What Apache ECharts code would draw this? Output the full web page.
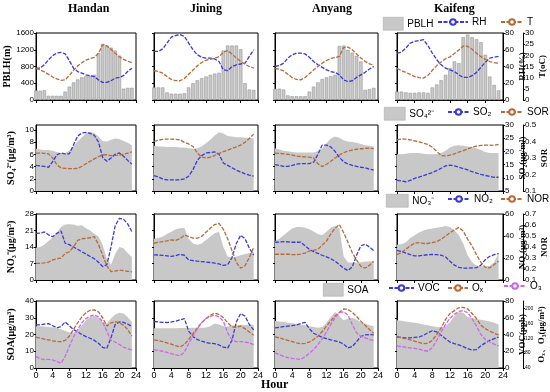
<!DOCTYPE html>
<html><head><meta charset="utf-8">
<script src="https://cdn.jsdelivr.net/npm/echarts@6/dist/echarts.min.js"></script>
<style>html,body{margin:0;padding:0;background:#fff}#c{width:550px;height:392px}</style>
</head><body><div id="c"></div>
<script>
const hours = [0,1,2,3,4,5,6,7,8,9,10,11,12,13,14,15,16,17,18,19,20,21,22,23];
const cities = ['Handan','Jining','Anyang','Kaifeng'];

// Row 1: PBLH (m), RH (%), T (oC)
const pblhHandan = [230,220,230,100,100,100,100,200,320,420,490,540,570,580,600,1120,1340,1300,1250,1180,1060,270,290,290];
const pblhJining = [300,300,300,180,150,150,150,160,300,400,470,520,560,600,630,650,1180,1300,1300,1300,1210,400,250,240];
const pblhAnyang = [270,270,250,110,90,90,90,90,200,320,420,500,540,570,600,1290,1300,1200,1130,1050,920,240,260,290];
const pblhKaifeng = [200,200,180,170,170,180,180,170,300,370,470,600,760,920,880,1500,1560,1500,1450,1380,1080,560,360,230];
const rhHandan = [38,38,42,48,53,56,57,55,47,38,34,32,30,29,28,24,21,21,23,26,27,29,34,38];
const rhJining = [58,58,61,68,75,77,78,76,68,60,54,51,50,50,49,46,36,35,40,42,43,44,52,60];
const rhAnyang = [40,41,44,50,54,56,56,55,51,46,42,39,36,34,33,30,24,22,23,27,30,33,37,40];
const rhKaifeng = [56,57,62,68,70,71,72,65,56,48,42,38,36,34,30,27,27,29,33,39,45,50,51,52];
const tHandan = [14.1,13.5,12.6,11.5,10.3,9.5,8.8,9.0,11.0,13.3,15.2,16.7,17.9,18.6,19.1,20.9,24.7,24.2,22.7,20.9,19.4,18.2,17.4,16.7];
const tJining = [13.1,12.8,12.0,10.5,9.2,8.7,8.6,9.6,11.5,13.4,15.3,16.8,17.8,18.3,18.6,19.4,21.4,22.1,20.6,18.8,17.3,16.0,15.0,14.3];
const tAnyang = [14.1,13.8,13.0,11.5,10.0,9.2,9.0,10.0,11.8,13.5,15.0,16.5,17.7,18.6,19.0,19.5,23.5,23.7,22.5,20.6,18.8,17.3,16.2,15.6];
const tKaifeng = [14.1,13.2,12.3,11.5,10.5,10.0,9.8,11.0,13.3,15.4,17.0,18.5,19.3,20.8,22.4,24.2,24.0,22.7,20.9,19.4,18.2,17.2,16.7,16.4];

// Row 2: SO4 (ug/m3), SO2 (ug/m3), SOR
const so4Handan = [6.9,6.8,6.7,6.7,6.6,6.4,6.2,6.2,6.6,7.3,8.1,8.8,9.4,9.7,9.5,8.9,8.2,8.1,8.4,8.6,8.5,8.2,7.9,7.5];
const so4Jining = [7.4,7.3,7.3,7.2,7.2,7.2,7.1,7.1,7.0,6.9,7.0,7.3,7.8,8.4,9.1,9.6,9.4,9.0,8.9,8.8,8.8,8.7,8.7,8.6];
const so4Anyang = [7.0,6.8,6.6,6.5,6.4,6.3,6.3,6.3,6.3,6.3,6.5,7.0,7.8,8.6,8.9,8.7,8.3,8.1,8.0,7.9,7.7,7.5,7.4,7.3];
const so4Kaifeng = [6.0,6.0,6.1,6.2,6.2,6.2,6.1,6.0,6.0,6.0,6.2,6.6,7.1,7.4,7.5,7.4,7.3,7.2,7.0,6.7,6.4,6.2,6.2,6.2];
const so2Handan = [14.7,14.5,14.3,14.0,16.1,18.7,19.4,19.1,19.1,22.4,25.8,27.0,27.2,26.8,26.1,23.5,17.7,16.3,17.5,18.9,19.4,18.2,16.6,15.2];
const so2Jining = [10.8,10.3,9.6,9.2,9.2,9.2,9.2,9.6,10.6,13.1,16.6,18.4,19.4,19.6,19.8,18.9,15.6,14.7,13.8,12.9,12.2,11.5,11.0,10.6];
const so2Anyang = [15.0,14.7,14.3,14.3,14.7,15.2,15.4,15.4,15.4,15.9,18.9,22.4,22.4,21.7,20.0,17.7,16.1,15.2,14.7,14.3,14.0,13.8,13.3,12.9];
const so2Kaifeng = [9.0,8.8,8.5,9.0,9.8,10.3,10.8,11.4,12.0,12.7,13.6,14.5,14.8,14.5,14.0,13.5,13.0,12.3,11.8,11.3,10.9,10.5,10.2,10.2];
const sorHandan = [0.330,0.330,0.328,0.325,0.300,0.260,0.240,0.237,0.236,0.236,0.237,0.250,0.265,0.280,0.295,0.308,0.318,0.320,0.315,0.316,0.318,0.322,0.330,0.337];
const sorJining = [0.400,0.408,0.413,0.415,0.415,0.413,0.410,0.395,0.385,0.370,0.330,0.305,0.300,0.305,0.315,0.328,0.338,0.348,0.358,0.368,0.378,0.395,0.418,0.444];
const sorAnyang = [0.330,0.328,0.325,0.322,0.318,0.312,0.308,0.307,0.305,0.300,0.265,0.248,0.262,0.280,0.300,0.318,0.332,0.342,0.348,0.353,0.356,0.358,0.359,0.357];
const sorKaifeng = [0.410,0.415,0.414,0.410,0.404,0.397,0.390,0.383,0.365,0.340,0.315,0.313,0.318,0.325,0.335,0.345,0.355,0.365,0.372,0.376,0.378,0.378,0.376,0.383];

// Row 3: NO3 (ug/m3), NO2 (ug/m3), NOR
const no3Handan = [13.7,14.0,15.0,16.5,18.0,20.0,22.5,23.5,23.6,23.5,23.0,23.2,22.0,21.0,19.5,18.5,15.0,9.0,6.5,11.0,14.0,13.5,11.5,9.8];
const no3Jining = [17.5,17.8,18.5,19.5,20.5,21.5,22.0,22.2,17.5,15.5,15.0,15.5,17.0,18.5,19.8,20.5,14.0,10.0,9.5,10.0,10.5,11.0,11.5,12.0];
const no3Anyang = [16.5,17.5,19.0,20.5,21.8,22.5,22.5,22.2,21.5,20.6,19.5,19.0,20.5,22.3,22.9,22.0,10.0,7.5,7.3,7.3,7.5,7.8,7.8,8.0];
const no3Kaifeng = [15.0,15.2,16.0,17.8,19.0,20.2,21.0,21.5,21.8,22.2,22.5,22.9,22.5,21.0,19.0,15.5,10.5,7.5,6.2,5.8,5.8,6.0,7.5,11.5];
const no2Handan = [42.4,42.6,43.7,41.1,39.4,42.4,44.6,33.4,32.1,30.0,27.9,25.7,23.6,21.4,19.3,16.1,12.2,13.9,30.0,49.3,56.1,55.3,51.0,43.9];
const no2Jining = [22.9,22.7,22.3,21.9,21.4,22.1,23.4,22.5,18.2,17.6,17.1,16.7,16.3,15.9,15.4,14.6,13.3,13.9,20.4,33.2,40.7,37.5,28.9,22.7];
const no2Anyang = [34.3,34.5,34.9,34.7,34.3,34.3,34.5,31.1,27.9,25.7,24.2,22.5,21.0,19.3,17.1,13.9,10.7,8.6,11.8,22.5,31.1,32.6,30.0,26.8];
const no2Kaifeng = [27.0,26.0,24.5,23.0,22.0,22.0,22.5,23.0,23.2,23.0,22.5,21.0,17.0,13.5,11.5,10.8,10.8,11.0,11.2,13.5,18.5,21.5,23.0,24.0];
const norHandan = [0.252,0.252,0.256,0.263,0.282,0.293,0.299,0.342,0.357,0.400,0.460,0.475,0.479,0.484,0.494,0.421,0.325,0.229,0.177,0.181,0.190,0.186,0.179,0.175];
const norJining = [0.434,0.443,0.449,0.456,0.464,0.460,0.475,0.507,0.496,0.481,0.481,0.496,0.535,0.571,0.604,0.614,0.561,0.475,0.368,0.261,0.207,0.229,0.304,0.396];
const norAnyang = [0.334,0.334,0.334,0.334,0.331,0.331,0.336,0.344,0.364,0.370,0.379,0.417,0.454,0.518,0.571,0.604,0.529,0.443,0.349,0.282,0.224,0.209,0.233,0.271];
const norKaifeng = [0.330,0.350,0.380,0.410,0.435,0.440,0.432,0.432,0.440,0.450,0.470,0.500,0.530,0.555,0.578,0.545,0.470,0.410,0.330,0.260,0.215,0.210,0.240,0.270];

// Row 4: SOA (ug/m3), VOC (ppb), Ox and O3 (ug/m3)
const soaHandan = [25.0,25.0,24.8,24.5,24.2,23.8,23.2,22.2,21.2,21.0,22.5,25.5,28.5,30.5,31.2,30.0,27.5,26.5,29.5,32.0,33.0,32.5,30.5,27.5];
const soaJining = [23.8,23.8,23.8,23.8,23.8,23.8,23.9,23.9,23.9,24.0,24.0,24.0,24.2,25.0,26.5,26.0,25.0,24.8,25.2,25.5,25.7,25.7,25.8,25.8];
const soaAnyang = [28.0,27.8,27.5,27.0,26.7,26.3,26.0,25.5,25.0,24.5,24.0,24.5,27.0,30.5,33.5,31.0,28.5,29.5,30.0,29.0,27.5,26.5,25.5,25.0];
const soaKaifeng = [28.5,28.2,27.8,27.3,27.0,26.5,26.0,25.5,25.0,24.5,24.4,25.0,27.5,31.0,33.5,33.0,30.5,29.8,29.3,28.8,28.3,27.8,27.0,26.0];
const vocHandan = [51.5,51.5,52.5,53.0,50.5,48.0,49.5,55.0,50.5,46.0,43.0,40.0,37.5,35.5,33.0,29.5,24.5,23.5,36.0,52.0,55.0,54.5,52.5,49.5];
const vocJining = [55.5,55.0,54.5,54.3,55.0,56.0,57.5,59.0,44.0,37.5,34.0,32.0,30.5,29.5,29.0,27.5,25.0,23.8,33.0,55.0,65.0,62.0,52.0,45.5];
const vocAnyang = [48.0,48.5,49.5,50.0,50.5,51.5,53.0,54.5,47.0,41.5,39.0,36.5,35.0,33.5,32.5,31.0,28.5,24.0,25.5,31.5,37.5,39.5,40.0,39.5];
const vocKaifeng = [37.0,36.5,36.0,36.0,36.5,37.0,39.0,42.0,44.5,43.0,39.0,35.0,31.0,29.0,27.5,25.5,23.0,21.5,22.0,26.5,30.0,33.0,35.0,37.0];
const oxHandan = [122.8,120.1,117.4,115.6,112.9,111.1,110.7,114.3,125.5,143.5,161.5,177.3,188.5,195.3,196.2,190.8,175.0,152.5,161.5,164.7,161.5,154.8,143.5,125.5];
const oxJining = [115.6,113.4,111.1,107.5,103.9,99.9,96.3,103.0,116.5,132.3,148.0,161.5,172.8,181.8,187.2,184.0,175.0,161.5,150.3,149.4,152.5,145.8,136.8,127.8];
const oxAnyang = [123.7,121.0,117.6,114.3,110.9,107.5,105.3,106.4,109.8,116.5,125.5,137.9,152.5,167.1,179.5,189.6,198.6,197.5,189.6,178.4,166.0,154.8,143.5,133.4];
const oxKaifeng = [123.7,121.0,118.8,115.4,112.0,108.6,105.3,106.4,114.3,130.0,148.0,170.5,186.3,194.1,202.0,203.1,198.6,186.3,172.8,154.8,145.8,139.0,133.4,128.9];
const o3Handan = [71.1,64.8,62.5,63.4,61.6,57.1,52.6,71.5,98.5,123.3,143.5,161.5,172.8,179.5,182.7,177.3,163.8,139.0,114.3,109.8,103.0,96.3,91.8,88.6];
const o3Jining = [89.5,87.3,85.0,81.9,78.3,75.1,72.9,82.8,105.3,125.5,145.8,161.5,172.8,178.6,181.8,177.3,166.0,134.5,115.6,111.1,111.1,109.8,107.5,103.0];
const o3Anyang = [80.5,76.0,71.5,68.1,65.9,64.3,63.2,70.4,79.4,89.5,103.0,118.8,136.8,157.0,175.0,188.5,190.8,181.8,157.0,134.5,125.5,121.0,116.5,114.3];
const o3Kaifeng = [99.6,97.4,95.8,94.0,92.9,90.6,87.3,85.0,95.1,114.3,136.8,157.0,173.9,184.0,191.9,194.1,188.5,172.8,152.5,130.0,116.5,109.8,104.1,99.6];

// axis settings (ticks)
const leftAxes = [
  {name:'PBLH(m)', min:0, max:1600, interval:400},
  {name:'SO\u2084\u00B2\u207B(\u03BCg/m\u00B3)', min:0, max:10.8, interval:2},
  {name:'NO\u2083\u207B(\u03BCg/m\u00B3)', min:0, max:28, interval:7},
  {name:'SOA(\u03BCg/m\u00B3)', min:0, max:40, interval:10}
];
const rightAxes1 = [
  {name:'RH(%)', min:0, max:80, interval:20},
  {name:'SO\u2082(\u03BCg/m\u00B3)', min:5, max:30, interval:5},
  {name:'NO\u2082(\u03BCg/m\u00B3)', min:0, max:60, interval:20},
  {name:'VOC(ppb)', min:0, max:80, interval:20}
];
const rightAxes2 = [
  {name:'T(oC)', min:0, max:30, interval:5},
  {name:'SOR', min:0.1, max:0.5, interval:0.1},
  {name:'NOR', min:0.1, max:0.7, interval:0.1},
  {name:'O\u2093\u3001O\u2083(\u03BCg/m\u00B3)', min:40, max:220, interval:40}
];

const BLUE='#3a3ad6', BROWN='#b86a36', VIOLET='#cc66ee', GRAY='#c8c8c8';
const SERIF='Liberation Serif', SANS='Liberation Sans';

const colX=[36,154,275,397], colW=[100,104,103,106];
const rowY=[33,125,214,301], rowH=[67,66,66,67];

const pair = arr => hours.map((h,i)=>[h,arr[i]]);
const isMult = (m,iv) => Math.abs(m/iv - Math.round(m/iv)) < 1e-6;

const rows = [
  [ {type:'bar', name:'PBLH', k:0, d:[pblhHandan,pblhJining,pblhAnyang,pblhKaifeng]},
    {type:'line', name:'RH', k:1, color:BLUE, d:[rhHandan,rhJining,rhAnyang,rhKaifeng]},
    {type:'line', name:'T', k:2, color:BROWN, d:[tHandan,tJining,tAnyang,tKaifeng]} ],
  [ {type:'area', name:'SO\u2084\u00B2\u207B', k:0, d:[so4Handan,so4Jining,so4Anyang,so4Kaifeng]},
    {type:'line', name:'SO\u2082', k:1, color:BLUE, d:[so2Handan,so2Jining,so2Anyang,so2Kaifeng]},
    {type:'line', name:'SOR', k:2, color:BROWN, d:[sorHandan,sorJining,sorAnyang,sorKaifeng]} ],
  [ {type:'area', name:'NO\u2083\u207B', k:0, d:[no3Handan,no3Jining,no3Anyang,no3Kaifeng]},
    {type:'line', name:'NO\u2082', k:1, color:BLUE, d:[no2Handan,no2Jining,no2Anyang,no2Kaifeng]},
    {type:'line', name:'NOR', k:2, color:BROWN, d:[norHandan,norJining,norAnyang,norKaifeng]} ],
  [ {type:'area', name:'SOA', k:0, d:[soaHandan,soaJining,soaAnyang,soaKaifeng]},
    {type:'line', name:'VOC', k:1, color:BLUE, d:[vocHandan,vocJining,vocAnyang,vocKaifeng]},
    {type:'line', name:'O\u2093', k:2, color:BROWN, d:[oxHandan,oxJining,oxAnyang,oxKaifeng]},
    {type:'line', name:'O\u2083', k:2, color:VIOLET, d:[o3Handan,o3Jining,o3Anyang,o3Kaifeng]} ]
];

const grid=[], xAxis=[], yAxis=[], series=[];
for (let r=0;r<4;r++){
  for (let c=0;c<4;c++){
    const g=r*4+c;
    grid.push({left:colX[c], top:rowY[r], width:colW[c], height:rowH[r], show:true, borderColor:'#000', borderWidth:1, backgroundColor:'transparent'});
    xAxis.push({gridIndex:g, type:'value', min:0, max:24, interval:4,
      axisLine:{show:true, lineStyle:{color:'#000', width:1}},
      axisTick:{show:true, length:3, lineStyle:{color:'#000'}},
      axisLabel:{show:r===3, fontSize:9, color:'#000', margin:3, fontFamily:SANS},
      splitLine:{show:false}});
    const L=leftAxes[r];
    yAxis.push({gridIndex:g, type:'value', position:'left', min:L.min, max:L.max, interval:L.interval,
      name: c===0 ? L.name : '', nameLocation:'middle', nameGap:20, nameRotate:90,
      nameTextStyle:{fontFamily:SERIF, fontWeight:'bold', fontSize:10, color:'#000'},
      axisLine:{show:true, lineStyle:{color:'#000'}},
      axisTick:{show:true, length:2, lineStyle:{color:'#000'}},
      axisLabel:{show:c===0, fontSize:8, color:'#000', margin:2, fontFamily:SANS,
        showMaxLabel: isMult(L.max, L.interval), formatter: v => String(v)},
      splitLine:{show:false}});
    const R1=rightAxes1[r], R2=rightAxes2[r];
    yAxis.push({gridIndex:g, type:'value', position:'right', offset:0, show:c===3, min:R1.min, max:R1.max, interval:R1.interval,
      name:R1.name, nameLocation:'middle', nameGap:12, nameRotate:90,
      nameTextStyle:{fontFamily:SERIF, fontWeight:'bold', fontSize:9, color:'#000'},
      axisLine:{show:true, lineStyle:{color:'#000'}},
      axisTick:{show:true, length:2, lineStyle:{color:'#000'}},
      axisLabel:{fontSize:8, color:'#000', margin:2, fontFamily:SANS, formatter: v => String(v)},
      splitLine:{show:false}});
    yAxis.push({gridIndex:g, type:'value', position:'right', offset:20, show:c===3, min:R2.min, max:R2.max, interval:R2.interval,
      name:R2.name, nameLocation:'middle', nameGap: r===3 ? 11 : 13, nameRotate:90,
      nameTextStyle:{fontFamily:SERIF, fontWeight:'bold', fontSize:9, color:'#000'},
      axisLine:{show:true, lineStyle:{color:'#000'}},
      axisTick:{show:true, length:2, lineStyle:{color:'#000'}},
      axisLabel:{fontSize: r===3 ? 5 : 8, color:'#000', margin:2, fontFamily:SANS,
        showMaxLabel: isMult(R2.max, R2.interval),
        formatter: v => (r===1||r===2) ? v.toFixed(1) : String(v)},
      splitLine:{show:false}});
    rows[r].forEach(s=>{
      const base = {name:s.name, xAxisIndex:g, yAxisIndex:g*3+s.k, data:pair(s.d[c]), animation:false};
      if (s.type==='bar'){
        series.push(Object.assign(base,{type:'bar', barWidth:3.4, itemStyle:{color:GRAY, borderColor:'#8a8a8a', borderWidth:0.5}}));
      } else if (s.type==='area'){
        series.push(Object.assign(base,{type:'line', symbol:'none', lineStyle:{width:0}, itemStyle:{color:GRAY}, areaStyle:{color:GRAY, opacity:1}, z:1}));
      } else {
        series.push(Object.assign(base,{type:'line', symbol:'emptyCircle', symbolSize:3, showSymbol:false, itemStyle:{color:s.color}, lineStyle:{color:s.color, width:1.3, type:[4,1.5]}, z:3}));
      }
    });
  }
}

const legendItems = [
  {name:'PBLH', left:383, cy:24, w:20, h:13, rect:true},
  {name:'RH', left:437, cy:24, w:30, h:7},
  {name:'T', left:500, cy:24, w:22, h:7},
  {name:'SO\u2084\u00B2\u207B', left:384, cy:114, w:21, h:13, rect:true},
  {name:'SO\u2082', left:447, cy:114, w:21, h:7},
  {name:'SOR', left:500, cy:114, w:22, h:7},
  {name:'NO\u2083\u207B', left:386, cy:201, w:22, h:13, rect:true},
  {name:'NO\u2082', left:447, cy:201, w:22, h:7},
  {name:'NOR', left:500, cy:201, w:22, h:7},
  {name:'SOA', left:323, cy:290, w:20, h:13, rect:true},
  {name:'VOC', left:388, cy:290, w:25, h:7},
  {name:'O\u2093', left:447, cy:290, w:20, h:7},
  {name:'O\u2083', left:503, cy:288, w:22, h:7}
];
const legend = legendItems.map(it=>({
  data:[it.rect ? {name:it.name, icon:'rect', itemStyle:{color:GRAY, borderColor:'#a0a0a0', borderWidth:0.5}} : {name:it.name}],
  left:it.left, top:it.cy-7, itemWidth:it.w, itemHeight:it.h, itemGap:0, padding:0,
  selectedMode:false,
  textStyle:{fontSize:10, color:'#000', fontFamily:SANS, padding:[0,0,0,-1]}
}));

const graphic = cities.map((t,i)=>({type:'text', left:[68,190,312,434][i], top:3,
  style:{text:t, font:'bold 12px "Liberation Serif"', fill:'#000'}}));
graphic.push({type:'text', left:261, top:379, style:{text:'Hour', font:'bold 12px "Liberation Serif"', fill:'#000'}});

const chart = echarts.init(document.getElementById('c'), null, {renderer:'canvas'});
chart.setOption({animation:false, backgroundColor:'#fff', grid, xAxis, yAxis, series, legend, graphic});
</script>
</body></html>
